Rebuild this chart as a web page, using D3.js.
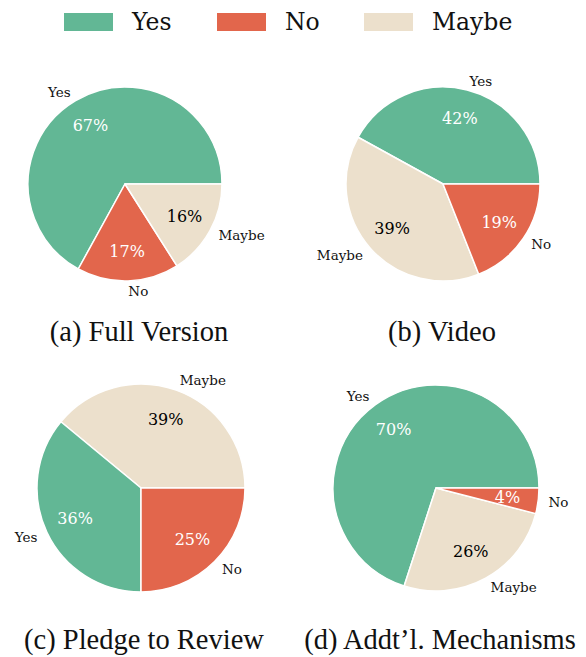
<!DOCTYPE html>
<meta charset="utf-8">
<html>
<head>
  <script src="https://d3js.org/d3.v7.min.js"></script>
  <style>
    body { margin: 0; background: #fff; }
    .lbl { font-family: "DejaVu Serif", "Liberation Serif", serif; font-size: 13.5px; fill: #111; }
    .pct { font-family: "DejaVu Serif", "Liberation Serif", serif; font-size: 16px; }
    .legend text { font-family: "DejaVu Serif", "Liberation Serif", serif; font-size: 23.5px; fill: #111; }
    .caption { font-family: "Liberation Serif", "Times New Roman", serif; font-size: 28.5px; fill: #111; }
  </style>
</head>
<body>
<script>
  // data
  var categories = ["Yes", "No", "Maybe"];
  var panelTitles = ["(a) Full Version", "(b) Video", "(c) Pledge to Review", "(d) Addt’l. Mechanisms"];
  var yesValues = [67, 42, 36, 70];
  var noValues = [17, 19, 25, 4];
  var maybeValues = [16, 39, 39, 26];
  // wedge order (counter-clockwise from 3 o'clock) per panel
  var wedgeOrder = [
    ["Yes", "No", "Maybe"],
    ["Yes", "Maybe", "No"],
    ["Maybe", "Yes", "No"],
    ["Yes", "Maybe", "No"]
  ];

  var colors = { "Yes": "#62b795", "No": "#e2664c", "Maybe": "#ece0cc" };
  var pctColor = { "Yes": "#fff", "No": "#fff", "Maybe": "#000" };

  // layout
  var width = 586, height = 657;
  var panels = [
    { cx: 125, cy: 184, r: 97, capX: 139, capY: 331 },
    { cx: 443, cy: 184, r: 97, capX: 442, capY: 331 },
    { cx: 141, cy: 488, r: 104, capX: 144, capY: 639 },
    { cx: 436, cy: 488, r: 103, capX: 440, capY: 639 }
  ];

  var svg = d3.select("body").append("svg")
    .attr("width", width)
    .attr("height", height);

  // legend
  var legendX = [64, 217, 364];
  var legend = svg.append("g").attr("class", "legend");
  categories.forEach(function (c, i) {
    legend.append("rect")
      .attr("x", legendX[i]).attr("y", 13)
      .attr("width", 49).attr("height", 18)
      .attr("fill", colors[c]);
    legend.append("text")
      .attr("x", legendX[i] + 68).attr("y", 22)
      .attr("dominant-baseline", "central")
      .text(c);
  });

  var valueOf = { "Yes": yesValues, "No": noValues, "Maybe": maybeValues };

  // matplotlib style: start at 3 o'clock, go counter-clockwise
  var pie = d3.pie()
    .sort(null)
    .value(function (d) { return d.v; })
    .startAngle(Math.PI / 2)
    .endAngle(Math.PI / 2 - 2 * Math.PI);

  panels.forEach(function (p, i) {
    var rows = wedgeOrder[i].map(function (c) {
      return { c: c, v: valueOf[c][i] };
    });
    var arcs = pie(rows);
    var arc = d3.arc().innerRadius(0).outerRadius(p.r);

    var g = svg.append("g")
      .attr("transform", "translate(" + p.cx + "," + p.cy + ")");

    g.selectAll("path")
      .data(arcs)
      .enter().append("path")
      .attr("d", arc)
      .attr("fill", function (d) { return colors[d.data.c]; })
      .attr("stroke", "#fff")
      .attr("stroke-width", 1.5)
      .attr("stroke-linejoin", "round");

    arcs.forEach(function (d) {
      var mid = (d.startAngle + d.endAngle) / 2;
      var sx = Math.sin(mid), sy = -Math.cos(mid);

      g.append("text")
        .attr("class", "lbl")
        .attr("x", sx * p.r * 1.1)
        .attr("y", sy * p.r * 1.1)
        .attr("text-anchor", sx >= 0 ? "start" : "end")
        .attr("dominant-baseline", "central")
        .text(d.data.c);

      g.append("text")
        .attr("class", "pct")
        .attr("x", sx * p.r * 0.7)
        .attr("y", sy * p.r * 0.7)
        .attr("text-anchor", "middle")
        .attr("dominant-baseline", "central")
        .attr("fill", pctColor[d.data.c])
        .text(d.data.v + "%");
    });

    svg.append("text")
      .attr("class", "caption")
      .attr("x", p.capX)
      .attr("y", p.capY)
      .attr("text-anchor", "middle")
      .attr("dominant-baseline", "central")
      .text(panelTitles[i]);
  });
</script>
</body>
</html>
